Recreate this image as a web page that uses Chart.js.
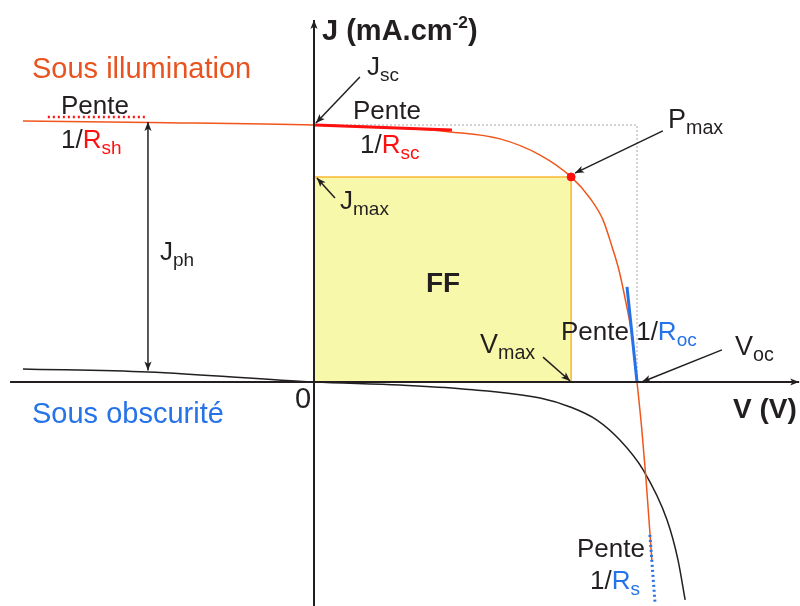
<!DOCTYPE html>
<html>
<head>
<meta charset="utf-8">
<script src="https://cdn.jsdelivr.net/npm/chart.js@4/dist/chart.umd.min.js"></script>
<style>
html,body{margin:0;padding:0;background:#fff;}
#c{display:block;}
</style>
</head>
<body>
<canvas id="c" width="800" height="606"></canvas>
<script>
// ---- Data (normalized units: V/Voc, J/Jsc) ----
const V_light = [-0.901,-0.508,0,0.266,0.421,0.576,0.700,0.796,0.854,0.895,0.920,0.944,0.966,0.985,1.000,1.015,1.028,1.040,1.046];
const J_light = [1.016,1.010,1.000,0.988,0.973,0.946,0.883,0.798,0.716,0.630,0.537,0.436,0.307,0.175,0,-0.187,-0.381,-0.588,-0.693];
const V_dark = [-0.901,-0.514,0,0.266,0.461,0.700,0.793,0.876,0.947,1.019,1.093,1.127,1.149];
const J_dark = [0.051,0.039,0,-0.012,-0.027,-0.062,-0.097,-0.148,-0.226,-0.342,-0.537,-0.693,-0.848];
const Vmax = 0.796, Jmax = 0.798, Voc = 1.0, Jsc = 1.0;
const V_Rsh = [-0.824,-0.523], J_Rsh = [1.031,1.031];
const V_Rsc = [0.003,0.427], J_Rsc = [1.0,0.981];
const V_Roc = [0.969,1.0], J_Roc = [0.370,0.0];
const V_Rs = [1.040,1.056], J_Rs = [-0.595,-0.864];
const xRange = [-0.9721, 1.5046], yRange = [-0.8716, 1.4864];

const ORANGE = '#f0561c', ORANGE_TXT = '#e8531f', RED = '#ff1010', BLUE = '#2672e8', INK = '#231f20';
const pts = (xs, ys) => xs.map((x, i) => ({x, y: ys[i]}));

const datasets = [
  {data: pts([0, Vmax], [Jmax, Jmax]), borderColor: '#f7b733', borderWidth: 1.5, backgroundColor: 'rgba(248,248,165,0.95)', fill: 'origin', pointRadius: 0, showLine: true, order: 20},
  {data: pts([Vmax, Vmax], [Jmax, 0]), borderColor: '#f7b733', borderWidth: 1.5, pointRadius: 0, showLine: true, order: 19},
  {data: pts([0, Voc, Voc], [Jsc, Jsc, 0]), borderColor: '#a8a8a8', borderWidth: 1, borderDash: [2, 2], pointRadius: 0, showLine: true, order: 18},
  {data: pts(V_dark, J_dark), borderColor: INK, borderWidth: 1.5, pointRadius: 0, showLine: true, cubicInterpolationMode: 'monotone', order: 10},
  {data: pts(V_light, J_light), borderColor: ORANGE, borderWidth: 1.5, pointRadius: 0, showLine: true, cubicInterpolationMode: 'monotone', order: 9},
  {data: pts(V_Rsh, J_Rsh), borderColor: RED, borderWidth: 2.5, borderDash: [2, 3], pointRadius: 0, showLine: true, order: 5},
  {data: pts(V_Rsc, J_Rsc), borderColor: RED, borderWidth: 3, pointRadius: 0, showLine: true, order: 5},
  {data: pts(V_Roc, J_Roc), borderColor: BLUE, borderWidth: 3, pointRadius: 0, showLine: true, order: 5},
  {data: pts(V_Rs, J_Rs), borderColor: BLUE, borderWidth: 3, borderDash: [2, 3], pointRadius: 0, showLine: true, order: 5},
  {data: pts([Vmax], [Jmax]), backgroundColor: RED, borderColor: RED, pointRadius: 4, showLine: false, order: 1}
];

// arrows in data units: [x1,y1,x2,y2, doubleHeaded]
const arrows = [
  [-0.941, 0, 1.502, 0, false],
  [0, -0.872, 0, 1.409, false],
  [-0.514, 0.045, -0.514, 1.012, true],
  [0.142, 1.187, 0.006, 1.008, false],
  [0.065, 0.716, 0.009, 0.794, false],
  [0.709, 0.097, 0.793, 0.004, false],
  [1.080, 0.977, 0.808, 0.813, false],
  [1.263, 0.125, 1.015, 0.0, false]
];

const FONT = '"Liberation Sans", Arial, Helvetica, sans-serif';
const labels = [
  [32, 78, 29, [{t: 'Sous illumination', c: ORANGE_TXT}]],
  [32, 423, 29, [{t: 'Sous obscurité', c: BLUE}]],
  [322, 40, 29, [{t: 'J (mA.cm', b: 1}, {t: '-2', b: 1, sup: 1}, {t: ')', b: 1}]],
  [733, 418, 28, [{t: 'V (V)', b: 1}]],
  [295, 408, 29, [{t: '0'}]],
  [426, 292, 28, [{t: 'FF', b: 1}]],
  [61, 114, 26, [{t: 'Pente'}]],
  [61, 148, 26, [{t: '1/'}, {t: 'R', c: RED}, {t: 'sh', c: RED, sub: 1}]],
  [367, 75, 26, [{t: 'J'}, {t: 'sc', sub: 1}]],
  [353, 119, 26, [{t: 'Pente'}]],
  [360, 153, 26, [{t: '1/'}, {t: 'R', c: RED}, {t: 'sc', c: RED, sub: 1}]],
  [668, 128, 27, [{t: 'P'}, {t: 'max', sub: 1}]],
  [340, 209, 26, [{t: 'J'}, {t: 'max', sub: 1}]],
  [160, 260, 26, [{t: 'J'}, {t: 'ph', sub: 1}]],
  [480, 353, 27, [{t: 'V'}, {t: 'max', sub: 1}]],
  [561, 340, 26, [{t: 'Pente 1/'}, {t: 'R', c: BLUE}, {t: 'oc', c: BLUE, sub: 1}]],
  [735, 355, 27, [{t: 'V'}, {t: 'oc', sub: 1}]],
  [577, 557, 26, [{t: 'Pente'}]],
  [590, 589, 26, [{t: '1/'}, {t: 'R', c: BLUE}, {t: 's', c: BLUE, sub: 1}]]
];

function drawRich(ctx, x, y, size, parts) {
  let cx = x;
  for (const p of parts) {
    const s = p.sub ? size * 0.73 : p.sup ? size * 0.6 : size;
    ctx.font = (p.b ? 'bold ' : '') + s.toFixed(1) + 'px ' + FONT;
    ctx.fillStyle = p.c || INK;
    const dy = p.sub ? size * 0.24 : p.sup ? -size * 0.4 : 0;
    ctx.fillText(p.t, cx, y + dy);
    cx += ctx.measureText(p.t).width;
  }
}

function arrowHead(ctx, x1, y1, x2, y2) {
  const a = Math.atan2(y2 - y1, x2 - x1), L = 9, W = 3.6;
  ctx.beginPath();
  ctx.moveTo(x2, y2);
  ctx.lineTo(x2 - L * Math.cos(a) + W * Math.sin(a), y2 - L * Math.sin(a) - W * Math.cos(a));
  ctx.lineTo(x2 - L * Math.cos(a) * 0.75, y2 - L * Math.sin(a) * 0.75);
  ctx.lineTo(x2 - L * Math.cos(a) - W * Math.sin(a), y2 - L * Math.sin(a) + W * Math.cos(a));
  ctx.closePath();
  ctx.fill();
}

const overlay = {
  id: 'overlay',
  afterDatasetsDraw(chart) {
    const ctx = chart.ctx, xs = chart.scales.x, ys = chart.scales.y;
    ctx.save();
    ctx.strokeStyle = INK; ctx.fillStyle = INK; ctx.lineCap = 'butt';
    arrows.forEach(([a, b, c, d, dbl], i) => {
      const x1 = xs.getPixelForValue(a), y1 = ys.getPixelForValue(b);
      const x2 = xs.getPixelForValue(c), y2 = ys.getPixelForValue(d);
      ctx.lineWidth = i < 2 ? 2 : 1.5;
      ctx.beginPath(); ctx.moveTo(x1, y1); ctx.lineTo(x2, y2); ctx.stroke();
      arrowHead(ctx, x1, y1, x2, y2);
      if (dbl) arrowHead(ctx, x2, y2, x1, y1);
    });
    ctx.textBaseline = 'alphabetic'; ctx.textAlign = 'left';
    labels.forEach(([x, y, s, parts]) => drawRich(ctx, x, y, s, parts));
    ctx.restore();
  }
};

new Chart(document.getElementById('c'), {
  type: 'scatter',
  data: {datasets},
  options: {
    responsive: false, animation: false, devicePixelRatio: 1,
    layout: {padding: 0, autoPadding: false},
    plugins: {legend: {display: false}, tooltip: {enabled: false}},
    scales: {
      x: {type: 'linear', min: xRange[0], max: xRange[1], display: false},
      y: {type: 'linear', min: yRange[0], max: yRange[1], display: false}
    },
    elements: {line: {tension: 0}}
  },
  plugins: [overlay]
});
</script>
</body>
</html>
